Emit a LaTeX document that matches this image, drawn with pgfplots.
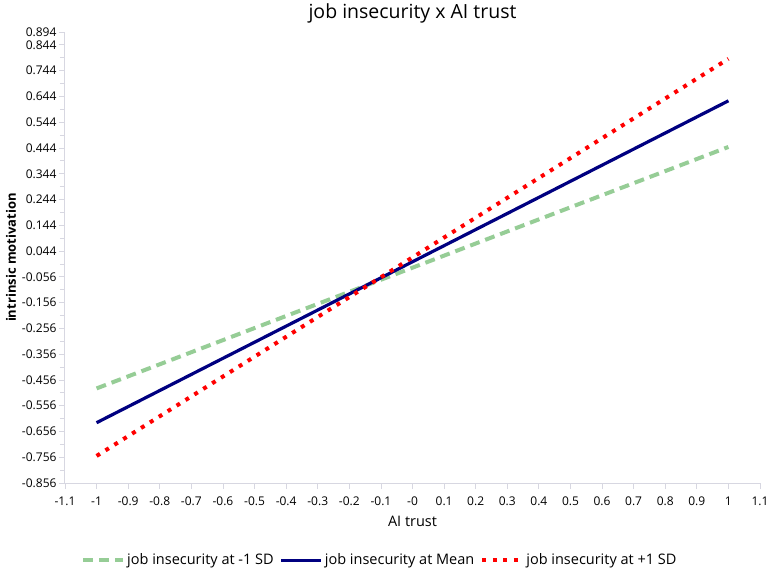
\documentclass[border=0pt]{standalone}
\usepackage{pgfplots}
\pgfplotsset{compat=1.18}
\usepackage{fontspec}
\setmainfont{Open Sans}
\definecolor{lgreen}{RGB}{150,205,150}
\definecolor{navy}{RGB}{0,0,128}
\definecolor{axgray}{RGB}{215,215,225}
\begin{document}
\begin{tikzpicture}[x=1pt,y=1pt]
\path[use as bounding box] (0,0) rectangle (768,574);
\begin{axis}[
  at={(65pt,91pt)}, anchor=south west,
  scale only axis, width=695pt, height=451pt,
  xmin=-1.1, xmax=1.1, ymin=-0.856, ymax=0.894,
  axis x line*=bottom, axis y line*=left,
  axis line style={axgray, line width=1pt},
  every tick/.style={axgray, line width=0.8pt},
  tick align=outside,
  major tick length=6pt, minor tick length=5pt,
  xtick={-1.1,-1,-0.9,-0.8,-0.7,-0.6,-0.5,-0.4,-0.3,-0.2,-0.1,0,0.1,0.2,0.3,0.4,0.5,0.6,0.7,0.8,0.9,1,1.1},
  xticklabels={-1.1,-1,-0.9,-0.8,-0.7,-0.6,-0.5,-0.4,-0.3,-0.2,-0.1,-0,0.1,0.2,0.3,0.4,0.5,0.6,0.7,0.8,0.9,1,1.1},
  ytick={-0.856,-0.756,-0.656,-0.556,-0.456,-0.356,-0.256,-0.156,-0.056,0.044,0.144,0.244,0.344,0.444,0.544,0.644,0.744,0.844,0.894},
  yticklabels={-0.856,-0.756,-0.656,-0.556,-0.456,-0.356,-0.256,-0.156,-0.056,0.044,0.144,0.244,0.344,0.444,0.544,0.644,0.744,0.844,0.894},
  minor ytick={-0.806,-0.706,-0.606,-0.506,-0.406,-0.306,-0.206,-0.106,-0.006,0.094,0.194,0.294,0.394,0.494,0.594,0.694,0.794},
  ticklabel style={font=\fontsize{12}{13}\selectfont, black},
  xticklabel style={yshift=-4pt},
  yticklabel style={xshift=1pt},
  xlabel={AI trust}, ylabel={intrinsic motivation},
  xlabel style={font=\fontsize{14.5}{16}\selectfont, yshift=-4pt},
  ylabel style={font=\bfseries\fontsize{13}{15}\selectfont, yshift=-1pt},
  title={job insecurity x AI trust},
  title style={font=\fontsize{19.5}{22}\selectfont, yshift=-1pt},
  legend style={draw=none, at={(0.453,-0.171)}, anchor=center, font=\fontsize{14.5}{16}\selectfont, /tikz/every even column/.append style={column sep=4pt}},
  legend columns=3,
  legend image code/.code={\draw[#1] (0pt,0pt) -- (40pt,0pt);},
]
\addplot[lgreen, line width=4pt, dash pattern=on 10pt off 6pt] coordinates {(-1,-0.489) (1,0.448)};
\addlegendentry{job insecurity at -1 SD}
\addplot[navy, line width=3.2pt] coordinates {(-1,-0.622) (1,0.627)};
\addlegendentry{job insecurity at Mean}
\addplot[red, line width=4pt, dash pattern=on 4pt off 6.5pt] coordinates {(-1,-0.751) (1,0.790)};
\addlegendentry{job insecurity at +1 SD}
\end{axis}
\end{tikzpicture}
\end{document}
